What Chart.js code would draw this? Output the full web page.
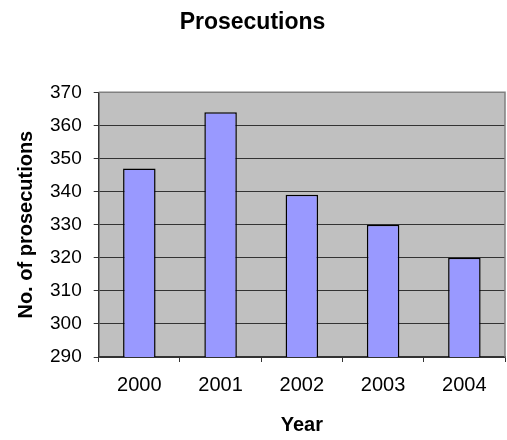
<!DOCTYPE html>
<html lang="en">
<head>
    <meta charset="UTF-8">
    <title>Prosecutions</title>
    <style>
        html, body { margin: 0; padding: 0; background: #ffffff; }
        #wrap { width: 507px; height: 440px; }
    </style>
</head>
<body>
<script src="https://cdn.jsdelivr.net/npm/chart.js@4.4.0/dist/chart.umd.min.js"></script>
<div id="wrap"><canvas id="bar-chart" width="507" height="440"></canvas></div>
<script>
    var years = ["2000", "2001", "2002", "2003", "2004"];
    var prosecutions = [347, 364, 339, 330, 320];
    var yMin = 290;
    var yMax = 370;
    var yStep = 10;

    // grey plot area plus the grey top/right frame, like the old spreadsheet chart
    var plotBox = {
        id: 'plotBox',
        beforeDraw: function (chart) {
            var a = chart.chartArea, ctx = chart.ctx;
            ctx.save();
            ctx.fillStyle = '#c0c0c0';
            ctx.fillRect(a.left, a.top, a.right - a.left, a.bottom - a.top);
            ctx.restore();
        },
        afterDraw: function (chart) {
            var a = chart.chartArea, ctx = chart.ctx;
            ctx.save();
            ctx.strokeStyle = '#808080';
            ctx.lineWidth = 1.5;
            ctx.beginPath();
            ctx.moveTo(a.left, a.top);
            ctx.lineTo(a.right, a.top);
            ctx.lineTo(a.right, a.bottom);
            ctx.stroke();
            ctx.restore();
        }
    };

    Chart.defaults.font.family = '"Liberation Sans", Arial, sans-serif';
    Chart.defaults.color = '#000000';

    new Chart(document.getElementById("bar-chart"), {
        type: 'bar',
        data: {
            labels: years,
            datasets: [
                {
                    label: "No. of prosecutions",
                    data: prosecutions,
                    backgroundColor: '#9999ff',
                    borderColor: '#000000',
                    borderWidth: 1.5,
                    borderSkipped: false,
                    categoryPercentage: 1.0,
                    barPercentage: 0.4
                }
            ]
        },
        options: {
            responsive: false,
            animation: false,
            layout: { padding: { left: 0, right: 2, top: 0, bottom: 0 } },
            plugins: {
                legend: { display: false },
                tooltip: { enabled: false },
                title: {
                    display: true,
                    text: 'Prosecutions',
                    font: { size: 23, weight: 'bold' },
                    color: '#000000',
                    padding: { top: 9, bottom: 55.7 }
                }
            },
            scales: {
                x: {
                    offset: true,
                    grid: {
                        display: true,
                        drawOnChartArea: false,
                        tickLength: 5,
                        color: '#333333'
                    },
                    border: { color: '#333333', width: 1.5 },
                    ticks: { font: { size: 20 }, padding: 11, color: '#000000' },
                    title: {
                        display: true,
                        text: 'Year',
                        font: { size: 20, weight: 'bold' },
                        color: '#000000',
                        padding: { top: 5.5, bottom: 2.5 }
                    }
                },
                y: {
                    min: yMin,
                    max: yMax,
                    grid: {
                        color: '#333333',
                        tickLength: 5,
                        lineWidth: 1
                    },
                    border: { color: '#333333', width: 1.5 },
                    ticks: { stepSize: yStep, font: { size: 19 }, padding: 12, color: '#000000' },
                    title: {
                        display: true,
                        text: 'No. of prosecutions',
                        font: { size: 20, weight: 'bold' },
                        color: '#000000',
                        padding: { top: 14, bottom: 0 }
                    }
                }
            }
        },
        plugins: [plotBox]
    });
</script>
</body>
</html>
